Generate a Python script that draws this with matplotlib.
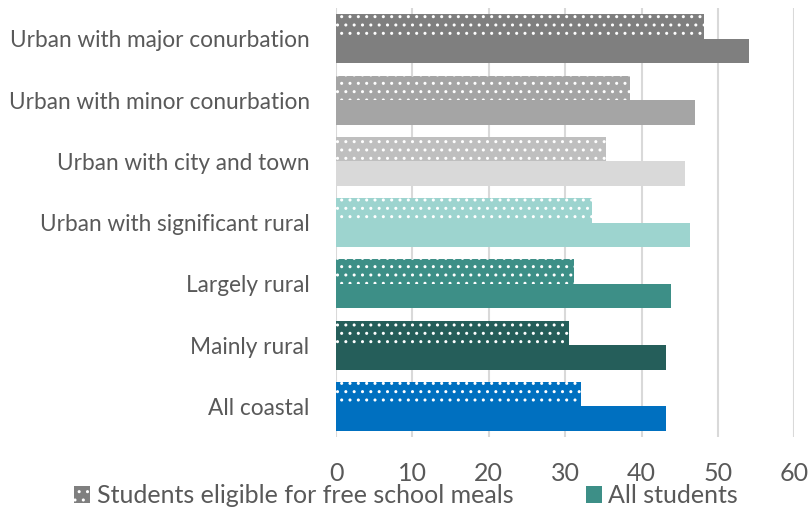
import numpy as np
import matplotlib
matplotlib.use("Agg")
import matplotlib.pyplot as plt
from matplotlib.patches import Patch

# ---- data (top to bottom as shown) ----
categories = [
    "Urban with major conurbation",
    "Urban with minor conurbation",
    "Urban with city and town",
    "Urban with significant rural",
    "Largely rural",
    "Mainly rural",
    "All coastal",
]
fsm_values = [48.2, 38.5, 35.4, 33.5, 31.1, 30.5, 32.1]
all_values = [54.1, 47.0, 45.7, 46.4, 43.9, 43.2, 43.2]
series_names = ["Students eligible for free school meals", "All students"]

fsm_colors = ["#7f7f7f", "#a5a5a5", "#bfbfbf", "#9dd4cf", "#3d8f87", "#255e5a", "#0070c0"]
all_colors = ["#7f7f7f", "#a5a5a5", "#d9d9d9", "#9dd4cf", "#3d8f87", "#255e5a", "#0070c0"]

TEXT = "#595959"
plt.rcParams["font.family"] = ["Lato", "DejaVu Sans"]
plt.rcParams["hatch.linewidth"] = 1.0

fig = plt.figure(figsize=(8.12, 5.08), dpi=100)
ax = fig.add_axes([0.4138, 0.140, 0.5645, 0.844])

n = len(categories)
y = np.arange(n)[::-1]  # first category at top
h = 0.4

ax.barh(y + h / 2, fsm_values, height=h, color=fsm_colors,
        edgecolor="white", linewidth=0, hatch="..", zorder=3)
ax.barh(y - h / 2, all_values, height=h, color=all_colors,
        linewidth=0, zorder=3)

ax.set_xlim(0, 60)
ax.set_ylim(-0.5, n - 0.5)
ax.set_xticks(range(0, 61, 10))
ax.set_yticks(y)
ax.set_yticklabels(categories, fontsize=16.3, color=TEXT)
ax.tick_params(axis="x", labelsize=18, colors=TEXT, length=0, pad=18)
ax.tick_params(axis="y", length=0, pad=19)
ax.grid(axis="x", color="#d9d9d9", linewidth=1.5, zorder=0)
for s in ax.spines.values():
    s.set_visible(False)

handles = [
    Patch(facecolor="#7f7f7f", edgecolor="white", linewidth=0, hatch=".."),
    Patch(facecolor="#3d8f87", linewidth=0),
]
fig.legend(handles, series_names, loc="center", bbox_to_anchor=(0.5, 0.024),
           ncol=2, frameon=False, fontsize=18, labelcolor=TEXT,
           handlelength=0.65, handleheight=0.65, handletextpad=0.25,
           columnspacing=2.9)

fig.savefig("out.png", dpi=100)
